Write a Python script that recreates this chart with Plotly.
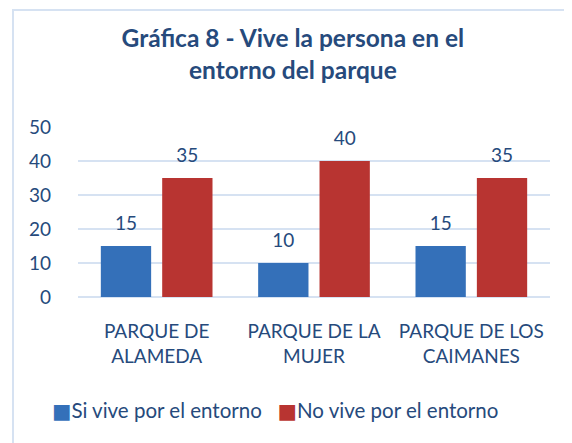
import plotly.graph_objects as go

categories = ["PARQUE DE<br>ALAMEDA", "PARQUE DE LA<br>MUJER", "PARQUE DE LOS<br>CAIMANES"]
series_names = ["Si vive por el entorno", "No vive por el entorno"]
si_vive = [15, 10, 15]
no_vive = [35, 40, 35]
y_ticks = [0, 10, 20, 30, 40, 50]

TEXT = "#264a7c"
FONT = "Lato"
BLUE = "#3470b9"
RED = "#b83431"

fig = go.Figure()
for name, vals, col, grp in [(series_names[0], si_vive, BLUE, "a"), (series_names[1], no_vive, RED, "b")]:
    fig.add_trace(go.Bar(
        x=categories, y=vals, name=name, offsetgroup=grp,
        marker=dict(color=col, line=dict(width=0)), showlegend=False,
    ))
for name, vals, grp in [(series_names[0], si_vive, "a"), (series_names[1], no_vive, "b")]:
    fig.add_trace(go.Scatter(
        x=categories, y=vals, mode="markers+text", offsetgroup=grp,
        marker=dict(size=16, opacity=0), text=[str(v) for v in vals],
        textposition="top center", cliponaxis=False, showlegend=False, hoverinfo="skip",
        textfont=dict(size=19, color=TEXT, family=FONT),
    ))

legend_text = (f"<span style='color:{BLUE};font-family:DejaVu Sans'>■</span>{series_names[0]}"
               f"   <span style='color:{RED};font-family:DejaVu Sans'>■</span>{series_names[1]}")

# page body has an 8px margin in the browser; margins compensate for it
fig.update_layout(
    width=572, height=443,
    margin=dict(l=70, r=30, t=119, b=154),
    paper_bgcolor="white", plot_bgcolor="white",
    font=dict(family=FONT, color=TEXT, size=18),
    title=dict(
        text="<b>Gráfica 8 - Vive la persona en el<br>entorno del parque</b>",
        x=0.498, xanchor="center", y=0.911, yanchor="top",
        font=dict(size=24.5, color=TEXT, family=FONT),
    ),
    barmode="group", bargap=0.22, bargroupgap=0.18,
    scattermode="group", scattergap=0.22,
    showlegend=False,
    annotations=[dict(text=legend_text, xref="paper", yref="paper",
                      x=(275 - 78) / 472, y=(297 - 410) / 170, xanchor="center", yanchor="middle",
                      showarrow=False, font=dict(size=20.5, color=TEXT, family=FONT))],
    shapes=[dict(type="rect", xref="paper", yref="paper",
                 x0=(13 - 78) / 472, x1=(600 - 78) / 472,
                 y0=(297 - 460) / 170, y1=(297 - 10) / 170,
                 line=dict(color="#d6e2f2", width=2), layer="below")],
)
fig.update_yaxes(
    range=[0, 50], tickvals=y_ticks, showgrid=True, gridcolor="#d6e2f2", gridwidth=2,
    zeroline=True, zerolinecolor="#d6e2f2", zerolinewidth=2, automargin=False,
    showline=False, ticks="", tickfont=dict(size=19, color=TEXT), ticklabelstandoff=26,
)
fig.update_xaxes(
    showline=False, ticks="", tickfont=dict(size=19, color=TEXT), tickangle=0,
    automargin=False, ticklabelstandoff=21,
)

fig.write_html("out.html")
